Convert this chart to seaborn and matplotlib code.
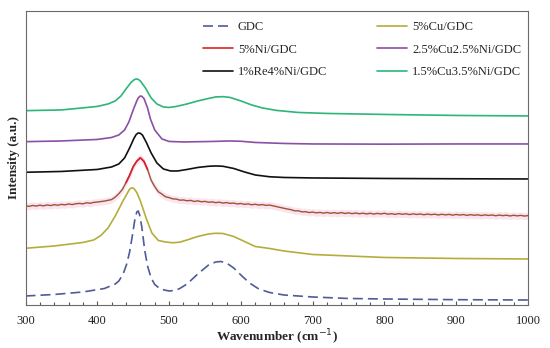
import numpy as np
import pandas as pd
import matplotlib
matplotlib.use("Agg")
import matplotlib.pyplot as plt
import seaborn as sns
from matplotlib.ticker import MultipleLocator

# Raman spectra, intensity in arbitrary units (curves stacked with offsets)
wn_gdc = [300, 340, 380, 410, 425, 430, 436, 441, 445, 449, 452, 455, 457, 459, 462, 466, 470, 475, 480,
          486, 490, 500, 508, 515, 525, 540, 555, 565, 572, 580, 590, 600, 612, 625, 640, 660, 700, 750, 800, 900, 1000]
int_gdc = [9, 10.5, 13, 16.5, 21, 24, 31, 41, 53, 70, 84, 93, 94, 90, 78, 55, 39, 27, 20.5,
           17, 15.5, 14, 14.5, 16.5, 21, 31, 40, 43, 43.5, 42, 37, 30, 22, 16, 12.5, 10, 8, 6.5, 6, 5.3, 5]

wn_cu = [300, 340, 380, 395, 405, 415, 425, 435, 442, 445, 448, 451, 455, 460, 468, 476, 485, 495, 505, 515, 525,
         540, 555, 565, 575, 590, 605, 620, 640, 660, 700, 750, 800, 900, 1000]
int_cu = [56.7, 59, 62.5, 65, 69.5, 77, 89, 103, 112, 115.8, 117.2, 116.5, 112.5, 104, 87, 72, 64.5, 63, 62.2, 62.8, 65,
          68.5, 71, 71.7, 71.5, 68.5, 63.5, 58.5, 56.5, 54, 50.5, 49, 47.5, 46.5, 46]

# 5%Ni/GDC is noisy: read every 5 cm-1 from 300 to 1000
int_ni = [99.2, 98.6, 99.5, 98.9, 99.8, 99.1, 100.0, 99.4, 100.3, 99.7,
          100.6, 100.1, 101.0, 100.4, 101.2, 101.6, 101.1, 102.2, 101.7, 102.6,
          102.9, 103.4, 103.9, 104.6, 105.4, 107.9, 111.3, 115.6, 122.4, 129.6,
          138.3, 143.8, 147.2, 143.6, 135.4, 124.7, 118.3, 113.2, 110.9, 108.2,
          107.4, 106.1, 105.9, 104.8, 105.0, 104.2, 104.6, 103.5, 104.1, 103.2,
          103.6, 102.7, 103.1, 102.3, 102.8, 101.9, 102.4, 101.6, 101.9, 101.0,
          101.5, 100.6, 101.1, 100.2, 100.7, 99.9, 100.4, 99.6, 99.9, 99.1,
          98.2, 97.6, 96.6, 95.9, 95.3, 94.1, 94.2, 93.1, 93.3, 92.4,
          92.9, 92.1, 92.6, 91.8, 92.5, 91.7, 92.3, 91.6, 92.4, 91.5,
          92.1, 91.3, 92.0, 91.2, 91.8, 91.0, 91.7, 90.9, 91.6, 91.0,
          91.7, 90.8, 91.3, 90.6, 91.4, 90.7, 91.2, 90.4, 91.1, 90.5,
          91.0, 90.2, 90.9, 90.3, 90.8, 90.0, 90.7, 90.1, 90.6, 89.8,
          90.5, 89.9, 90.4, 89.6, 90.3, 89.7, 90.2, 89.4, 90.1, 89.5,
          90.0, 89.2, 89.9, 89.3, 89.8, 89.0, 89.7, 89.1, 89.6, 88.9,
          89.4]
wn_ni = np.arange(300, 1001, 5)[:len(int_ni)]

wn_cuni = [300, 350, 400, 420, 430, 438, 444, 450, 455, 457, 460, 462, 465, 470, 474, 480, 490, 500, 520, 560,
           585, 600, 620, 660, 700, 800, 900, 1000]
int_cuni = [163.3, 164, 165.5, 167.5, 170, 175, 183, 195, 204, 207, 209, 208.6, 206.5, 197, 186, 175, 166, 163.5, 163, 163.5,
            164, 163.7, 162.5, 161.5, 161, 160.8, 161, 161]

wn_reni = [300, 350, 400, 420, 430, 438, 445, 451, 454, 457, 460, 463, 468, 475, 483, 492, 502, 512, 525, 540,
           555, 565, 575, 590, 605, 620, 640, 660, 700, 800, 900, 1000]
int_reni = [132.7, 133.5, 135.5, 138, 141, 147, 157, 166.5, 170.3, 172, 171.6, 169.8, 163, 152, 142, 136, 134, 134, 135.5, 137.5,
            138.7, 139, 138.7, 136.5, 133, 130, 128.2, 127.5, 127, 126.5, 126.2, 126]

wn_cuni2 = [300, 350, 400, 415, 425, 433, 440, 447, 451, 454, 457, 460, 467, 475, 483, 492, 500, 510, 525, 540,
            555, 565, 575, 585, 600, 615, 630, 650, 680, 720, 800, 900, 1000]
int_cuni2 = [194.3, 195, 198.5, 201, 204, 209, 216, 222.5, 225, 226, 225.6, 224, 217, 207, 201, 198, 197.5, 198.5, 201, 204,
             206.5, 208, 208.3, 207.5, 204, 200, 197, 194.5, 192.5, 191.5, 190.5, 189.5, 189]

sns.set_style("white")
plt.rcParams["font.family"] = ["Liberation Serif", "DejaVu Serif"]

fig = plt.figure(figsize=(5.5, 3.48), dpi=100)
ax = fig.add_axes([0.0464, 0.1236, 0.9136, 0.845])

lw = 1.2
line = sns.lineplot(x=wn_gdc, y=int_gdc, ax=ax, color="#4E5C98", lw=lw, label="GDC").lines[-1]
line.set_dashes((6, 3))
sns.lineplot(x=wn_cu, y=int_cu, ax=ax, color="#B5AD3A", lw=lw, label="5%Cu/GDC")

ni = np.array(int_ni)
ax.fill_between(wn_ni, ni - 3.5, ni + 3.5, color="#FCE3F0", lw=0)
sns.lineplot(x=wn_ni, y=ni, ax=ax, color="#9A5535", lw=1.0)
peak = (wn_ni >= 440) & (wn_ni <= 472)
sns.lineplot(x=wn_ni[peak], y=ni[peak], ax=ax, color="#E0202A", lw=lw, label="5%Ni/GDC")

sns.lineplot(x=wn_cuni, y=int_cuni, ax=ax, color="#8A4FA6", lw=lw, label="2.5%Cu2.5%Ni/GDC")
sns.lineplot(x=wn_reni, y=int_reni, ax=ax, color="#111111", lw=lw, label="1%Re4%Ni/GDC")
sns.lineplot(x=wn_cuni2, y=int_cuni2, ax=ax, color="#2DB57A", lw=lw, label="1.5%Cu3.5%Ni/GDC")

ax.set_xlim(300, 1000)
ax.set_ylim(0, 294)
ax.xaxis.set_major_locator(MultipleLocator(100))
ax.xaxis.set_minor_locator(MultipleLocator(20))
ax.set_yticks([])
ax.tick_params(axis="x", which="both", direction="in", bottom=True, top=False,
               colors="#555555", labelcolor="#222222", labelsize=9, pad=7)
ax.tick_params(axis="x", which="major", length=3, width=0.8)
ax.tick_params(axis="x", which="minor", length=2.5, width=0.8)
for s in ax.spines.values():
    s.set_color("#6a6a6a")
    s.set_linewidth(0.8)

ax.set_xlabel("Wavenumber (cm$^{-1}$)", fontsize=9.5, fontweight="bold", labelpad=1)
ax.set_ylabel("Intensity (a.u.)", fontsize=9.5, fontweight="bold", labelpad=4)

handles, labels = ax.get_legend_handles_labels()
order = ["GDC", "5%Ni/GDC", "1%Re4%Ni/GDC", "5%Cu/GDC", "2.5%Cu2.5%Ni/GDC", "1.5%Cu3.5%Ni/GDC"]
hmap = dict(zip(labels, handles))
ax.legend([hmap[k] for k in order], order, ncol=2, loc="upper left",
          bbox_to_anchor=(203 / 550, 1 - 21 / 348), bbox_transform=fig.transFigure,
          frameon=False, fontsize=9, handlelength=2.4, handletextpad=0.4,
          columnspacing=4.0, labelspacing=0.85, borderpad=0, borderaxespad=0)

fig.savefig("out.png", dpi=100)
